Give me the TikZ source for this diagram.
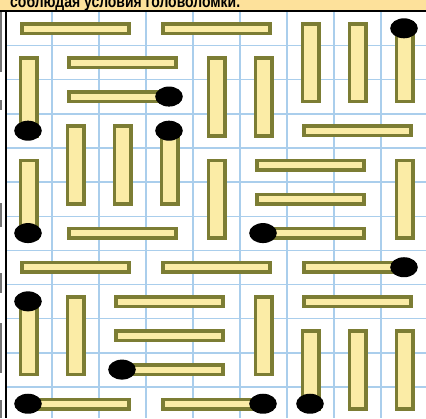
\documentclass[tikz,border=0pt]{standalone}
\usepackage{fontspec}
\setmainfont{Liberation Sans}
\definecolor{stickfill}{RGB}{251,236,166}
\definecolor{stickline}{RGB}{124,125,52}
\definecolor{gridblue}{RGB}{170,206,236}
\definecolor{headfill}{RGB}{253,225,155}
\begin{document}
\begin{tikzpicture}[x=1pt,y=-1pt,
  stick/.style={draw=stickline,fill=stickfill,line width=3.5pt},
  gridline/.style={draw=gridblue,line width=1.4pt},
  dotmark/.style={fill=black},
  edgeline/.style={draw=black,line width=2pt},
  sliver/.style={draw=black!55,line width=1.5pt}]
\useasboundingbox (0,0) rectangle (426,418);
\clip (0,0) rectangle (426,418);
\fill[white] (0,0) rectangle (426,418);
% header band
\fill[headfill] (0,0) rectangle (426,10.5);
\node[anchor=base west,inner sep=0pt,font=\bfseries\fontsize{17}{17}\selectfont] (head) at (10,7)
  {\resizebox{230pt}{\height}{соблюдая условия головоломки.}};
% grid
\foreach \k in {1,...,8} \draw[gridline] ({5+47*\k},11) -- ({5+47*\k},418);
\foreach \k in {1,...,11} \draw[gridline] (5,{11.5+34.13*\k}) -- (426,{11.5+34.13*\k});
% borders
\draw[edgeline] (0,11) -- (426,11);
\draw[edgeline] (5.5,11) -- (5.5,418);
\foreach \a/\b in {12/72,100/110,203/227,273/293,323/373,400/418}
  \draw[sliver] (0.8,\a) -- (0.8,\b);
% horizontal sticks (first column / row)
\foreach \c/\r in {0/0,3/0,1/1,1/2,6/3,5/4,5/5,1/6,5/6,0/7,3/7,6/7,2/8,6/8,2/9,2/10,0/11,3/11}
  \draw[stick] ({5+47*\c+17},{11.5+34.13*\r+17.07-4.75}) rectangle ({5+47*(\c+3)-17},{11.5+34.13*\r+17.07+4.75});
% vertical sticks (column / first row)
\foreach \c/\r in {6/0,7/0,8/0,0/1,4/1,5/1,1/3,2/3,3/3,0/4,4/4,8/4,0/8,1/8,5/8,6/9,7/9,8/9}
  \draw[stick] ({5+47*\c+23.5-8.25},{11.5+34.13*\r+12.25}) rectangle ({5+47*\c+23.5+8.25},{11.5+34.13*(\r+3)-12.25});
% dots
\foreach \c/\r in {8/0,0/3,3/2,3/3,0/6,5/6,8/7,0/8,2/10,0/11,5/11,6/11}
  \fill[dotmark] ({5+47*\c+23},{11.5+34.13*\r+16.8}) ellipse [x radius=13.8pt, y radius=10pt];
\end{tikzpicture}
\end{document}
